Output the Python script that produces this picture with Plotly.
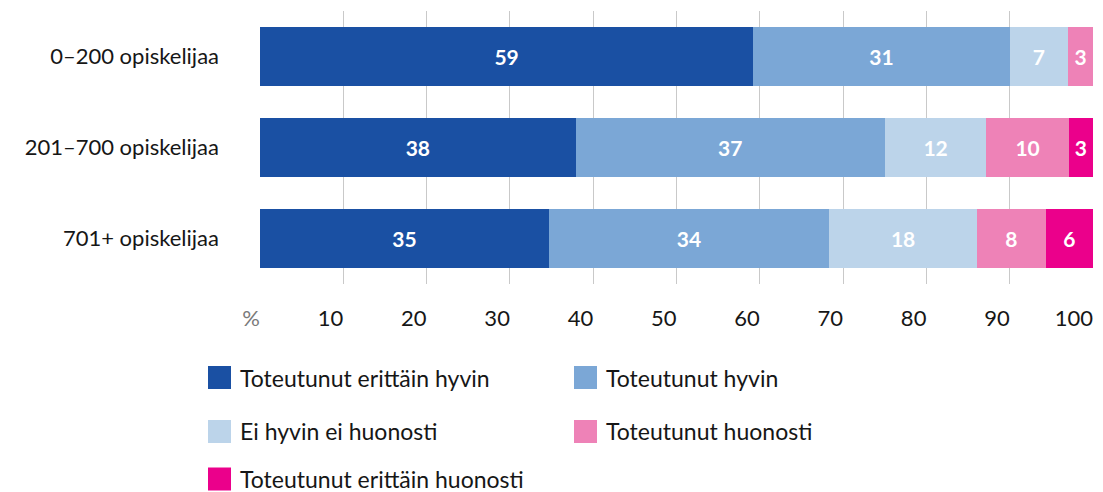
import plotly.graph_objects as go

categories = ["0–200 opiskelijaa", "201–700 opiskelijaa", "701+ opiskelijaa"]

series_names = [
    "Toteutunut erittäin hyvin",
    "Toteutunut hyvin",
    "Ei hyvin ei huonosti",
    "Toteutunut huonosti",
    "Toteutunut erittäin huonosti",
]
erittain_hyvin = [59.2, 37.9, 34.7]
hyvin = [30.8, 37.1, 33.6]
ei_hyvin_ei_huonosti = [7.0, 12.2, 17.8]
huonosti = [3.0, 9.9, 8.2]
erittain_huonosti = [0.0, 2.9, 5.7]

tick_values = [0, 10, 20, 30, 40, 50, 60, 70, 80, 90, 100]
tick_labels = ["<span style='color:#7a7a7a'>%</span>", "10", "20", "30", "40", "50", "60", "70", "80", "90", "100"]

colors = ["#1a50a3", "#7ba7d6", "#bcd4ea", "#ee82b7", "#eb008b"]
FONT = "Lato, 'Open Sans', sans-serif"

W, H = 1103, 492
M = {"l": 260, "r": 10, "t": 11, "b": 208}


def px_x(x):
    return (x - M["l"]) / (W - M["l"] - M["r"])


def px_y(y):
    return (H - M["b"] - y) / (H - M["t"] - M["b"])


fig = go.Figure()
all_values = [erittain_hyvin, hyvin, ei_hyvin_ei_huonosti, huonosti, erittain_huonosti]
for name, values, color in zip(series_names, all_values, colors):
    fig.add_trace(
        go.Bar(
            x=values,
            y=categories,
            orientation="h",
            name=name,
            marker={"color": color, "line": {"width": 0}},
            width=0.65,
            text=[f"{v:.0f}" if v else "" for v in values],
            textposition="inside",
            insidetextanchor="middle",
            textangle=0,
            textfont={"family": FONT, "size": 21, "color": "white", "weight": "bold"},
            showlegend=False,
        )
    )

# legend drawn by hand: two columns, big square swatches
legend_cols = [208, 574]
legend_rows = [377.5, 431.5, 479]
for i, (name, color) in enumerate(zip(series_names, colors)):
    cx = legend_cols[i % 2]
    cy = legend_rows[i // 2]
    fig.add_shape(
        type="rect",
        xref="paper",
        yref="paper",
        x0=px_x(cx),
        x1=px_x(cx + 23),
        y0=px_y(cy + 11.5),
        y1=px_y(cy - 11.5),
        fillcolor=color,
        line={"width": 0},
    )
    fig.add_annotation(
        x=px_x(cx + 30),
        y=px_y(cy),
        xref="paper",
        yref="paper",
        xanchor="left",
        yanchor="middle",
        showarrow=False,
        text=name,
        font={"family": FONT, "size": 23, "color": "#161616"},
    )

fig.update_layout(
    barmode="stack",
    width=W,
    height=H,
    margin=M,
    paper_bgcolor="white",
    plot_bgcolor="white",
    font={"family": FONT, "size": 22, "color": "#161616"},
    xaxis={
        "range": [0, 100],
        "tickvals": tick_values,
        "ticktext": tick_labels,
        "ticklabelposition": "outside left",
        "ticklabelstandoff": 19,
        "showgrid": True,
        "gridcolor": "#c9c9c9",
        "gridwidth": 1,
        "zeroline": False,
        "showline": False,
        "ticks": "",
        "tickfont": {"size": 22, "color": "#161616"},
        "fixedrange": True,
        "automargin": False,
    },
    yaxis={
        "categoryorder": "array",
        "categoryarray": categories,
        "range": [2.5, -0.5],
        "ticks": "",
        "ticklabelstandoff": 40,
        "showgrid": False,
        "zeroline": False,
        "tickfont": {"size": 22, "color": "#161616"},
        "fixedrange": True,
        "automargin": False,
    },
)

fig.write_html(
    "out.html",
    config={"displayModeBar": False},
    post_script="document.body.style.margin = '0px';",
)
